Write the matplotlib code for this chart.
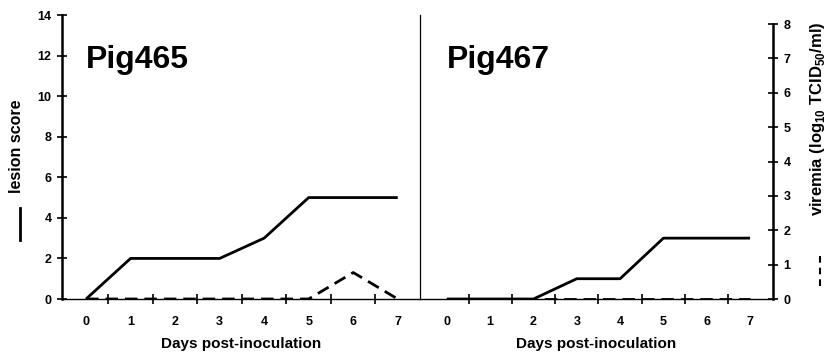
"""
Lesion score and viremia over days post-inoculation for two pigs.
"""

import matplotlib.pyplot as plt
from matplotlib.lines import Line2D

plt.rcParams["font.family"] = ["Liberation Sans", "DejaVu Sans"]
plt.rcParams["font.weight"] = "bold"
plt.rcParams["mathtext.fontset"] = "custom"
plt.rcParams["mathtext.rm"] = "Liberation Sans:bold"
plt.rcParams["mathtext.bf"] = "Liberation Sans:bold"

# data
days = [0, 1, 2, 3, 4, 5, 6, 7]
pigs = ["Pig465", "Pig467"]
lesion_465 = [0, 2, 2, 2, 3, 5, 5, 5]
lesion_467 = [0, 0, 0, 1, 1, 3, 3, 3]
viremia_465 = [0, 0, 0, 0, 0, 0, 0.77, 0]
viremia_467 = [0, 0, 0, 0, 0, 0, 0, 0]

W, H = 828, 352
fig = plt.figure(figsize=(W / 100, H / 100), dpi=100)

y0, y1 = 299, 15
ax1 = fig.add_axes([62 / W, (H - y0) / H, (420 - 62) / W, (y0 - y1) / H])
ax2 = fig.add_axes([420 / W, (H - y0) / H, (773 - 420) / W, (y0 - y1) / H])

vmax = 8 + (24 - y1) / ((y0 - 24) / 8)

panels = [
    (ax1, pigs[0], lesion_465, viremia_465, (-0.54, 7.5)),
    (ax2, pigs[1], lesion_467, viremia_467, (-0.62, 7.53)),
]

twins = []
for ax, name, lesion, viremia, xlim in panels:
    ax.set_xlim(*xlim)
    ax.set_ylim(0, 14)
    ax.plot(days, lesion, color="black", lw=2.0, solid_capstyle="butt", zorder=3)
    axv = ax.twinx()
    axv.set_ylim(0, vmax)
    axv.plot(days, viremia, color="black", lw=2.0, dashes=(4.5, 2.5), zorder=3)
    axv.set_xlim(*xlim)
    twins.append(axv)

    for s in ["top", "right"]:
        ax.spines[s].set_visible(False)
    ax.spines["bottom"].set_linewidth(1.0)
    ax.set_xticks(days)
    ax.set_xticks([d + 0.5 for d in days[:-1]], minor=True)
    ax.tick_params(axis="x", which="major", length=0, pad=12, labelsize=9)
    ax.tick_params(axis="x", which="minor", direction="inout", length=7, width=1.2)
    ax.set_xlabel("Days post-inoculation", fontsize=11, fontweight="bold", labelpad=7)
    ax.text(0.0, 11.4, name, fontsize=23, fontweight="bold", ha="left", va="baseline")

    for s in ["top", "left", "bottom", "right"]:
        axv.spines[s].set_visible(False)
    axv.set_yticks([])

# left panel y axis (lesion score)
ax1.spines["left"].set_linewidth(1.8)
ax1.set_yticks(range(0, 15, 2))
ax1.tick_params(axis="y", direction="inout", length=7, width=1.2, labelsize=9, pad=4)
fig.text(17 / W, 1 - 146 / H, "lesion score", rotation=90, fontsize=11.5,
         fontweight="bold", ha="center", va="center")

# divider between panels
ax2.spines["left"].set_linewidth(0.9)
ax2.set_yticks([])

# right panel viremia axis
axv2 = twins[1]
axv2.spines["right"].set_visible(True)
axv2.spines["right"].set_linewidth(1.8)
axv2.spines["right"].set_bounds(0, 8)
axv2.set_yticks(range(0, 9))
axv2.tick_params(axis="y", direction="inout", length=7, width=1.2, labelsize=9, pad=4)
fig.text(818 / W, 1 - 119 / H, r"viremia (log$_{10}$ TCID$_{50}$/ml)", rotation=90,
         fontsize=12, fontweight="bold", ha="center", va="center")

# line-style keys next to the axis labels
fig.add_artist(Line2D([20 / W, 20 / W], [1 - 208 / H, 1 - 240 / H],
                      color="black", lw=2.0))
fig.add_artist(Line2D([820 / W, 820 / W], [1 - 256 / H, 1 - 291 / H],
                      color="black", lw=1.5, dashes=(3.2, 2.4)))

plt.savefig("out.png", dpi=100)
